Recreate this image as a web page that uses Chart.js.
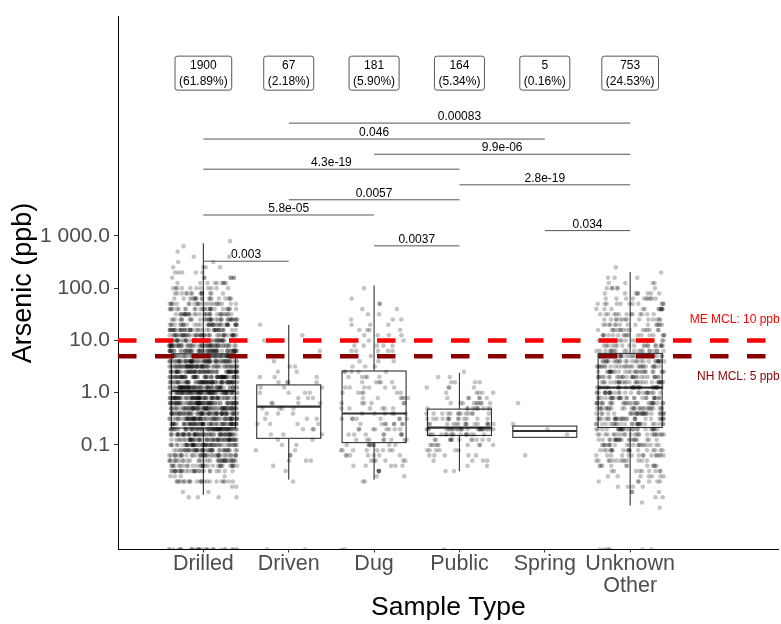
<!DOCTYPE html>
<html>
<head>
<meta charset="utf-8">
<script src="https://cdn.jsdelivr.net/npm/chart.js@4"></script>
<style>
  html, body { margin: 0; padding: 0; background: #fff; }
  #wrap { width: 781px; height: 624px; }
</style>
</head>
<body>
<div id="wrap"><canvas id="arsenicChart"></canvas></div>
<script>
// categories and sample sizes
const sampleTypes = ['Drilled', 'Driven', 'Dug', 'Public', 'Spring', ['Unknown', 'Other']];
const sampleCounts = [1900, 67, 181, 164, 5, 753];

// box statistics (ppb)
const q1 = [0.211, 0.134, 0.111, 0.152, 0.140, 0.216];
const median = [1.08, 0.543, 0.40, 0.214, 0.185, 1.25];
const q3 = [5.56, 1.41, 2.6, 0.485, 0.230, 5.65];
const whiskerLow = [0.0112, 0.0216, 0.0216, 0.0314, 0.140, 0.00698];
const whiskerHigh = [723, 19.8, 112, 2.41, 0.230, 203];

// y axis ticks
const yTickValues = [0.1, 1, 10, 100, 1000];
const yTickLabels = ['0.1', '1.0', '10.0', '100.0', '1 000.0'];

// MCL reference lines
const mclValues = [10, 5];
const mclLabels = ['ME MCL: 10 ppb', 'NH MCL: 5 ppb'];

// pairwise comparisons (group numbers, p value, bracket height in ppb)
const comparePairs = [[1, 2], [3, 4], [5, 6], [1, 3], [2, 4], [4, 6], [1, 4], [3, 6], [1, 5], [2, 6]];
const comparePValues = ['0.003', '0.0037', '0.034', '5.8e-05', '0.0057', '2.8e-19', '4.3e-19', '9.9e-06', '0.046', '0.00083'];
const compareHeights = [328, 645, 1262, 2514, 4910, 9490, 18900, 36500, 71300, 144000];
const countLabelHeight = 1.3e6;

// jittered samples: log10(ppb) levels and number of samples at each level
// (first level = values at or below the axis floor)
const levelLog10 = [-3.0,
  -2.2, -2.1, -2.0, -1.9, -1.8, -1.7, -1.6, -1.5, -1.4, -1.3, -1.2, -1.1, -1.0,
  -0.9, -0.8, -0.7, -0.6, -0.5, -0.4, -0.3, -0.2, -0.1, 0.0,
  0.1, 0.2, 0.3, 0.4, 0.5, 0.6, 0.7, 0.8, 0.9, 1.0,
  1.1, 1.2, 1.3, 1.4, 1.5, 1.6, 1.7, 1.8, 1.9, 2.0,
  2.1, 2.2, 2.3, 2.4, 2.5, 2.6, 2.7, 2.8, 2.9];
const drilledCounts = [30,
  0, 0, 4, 2, 2, 22, 4, 28, 30, 35, 38, 45, 55,
  58, 62, 64, 64, 65, 66, 68, 70, 70, 70,
  70, 70, 69, 68, 66, 65, 64, 58, 55, 50,
  46, 42, 38, 34, 30, 26, 22, 18, 14, 11,
  9, 7, 5, 4, 2, 2, 1, 1, 1];
const drivenCounts = [2,
  0, 0, 0, 0, 0, 1, 0, 1, 1, 3, 2, 2, 2,
  2, 3, 3, 4, 3, 3, 4, 4, 3, 4,
  3, 4, 3, 2, 2, 1, 1, 1, 0, 1,
  1, 0, 1, 0, 0, 0, 0, 0, 0, 0,
  0, 0, 0, 0, 0, 0, 0, 0, 0];
const dugCounts = [2,
  0, 0, 0, 0, 0, 2, 2, 4, 5, 6, 7, 8, 9,
  8, 8, 8, 8, 8, 6, 6, 6, 6, 6,
  6, 5, 5, 5, 3, 3, 3, 5, 5, 4,
  4, 4, 3, 3, 2, 2, 2, 1, 0, 1,
  0, 0, 0, 0, 0, 0, 0, 0, 0];
const publicCounts = [1,
  0, 0, 0, 0, 0, 0, 0, 2, 2, 4, 5, 6, 9,
  12, 16, 25, 15, 13, 13, 10, 9, 6, 5,
  4, 4, 2, 1, 0, 0, 0, 0, 0, 0,
  0, 0, 0, 0, 0, 0, 0, 0, 0, 0,
  0, 0, 0, 0, 0, 0, 0, 0, 0];
const springCounts = [0,
  0, 0, 0, 0, 0, 0, 0, 0, 0, 0, 1, 0, 0,
  0, 1, 1, 1, 0, 0, 0, 1, 0, 0,
  0, 0, 0, 0, 0, 0, 0, 0, 0, 0,
  0, 0, 0, 0, 0, 0, 0, 0, 0, 0,
  0, 0, 0, 0, 0, 0, 0, 0, 0];
const unknownCounts = [7,
  1, 1, 2, 3, 4, 6, 7, 9, 11, 13, 15, 18, 20,
  22, 24, 26, 26, 27, 27, 27, 27, 27, 27,
  27, 27, 27, 27, 27, 27, 26, 20, 19, 18,
  17, 16, 15, 14, 13, 12, 11, 10, 8, 6,
  4, 3, 1, 1, 0, 0, 0, 0, 0];
const groupCounts = [drilledCounts, drivenCounts, dugCounts, publicCounts, springCounts, unknownCounts];

const FONT = "'Liberation Sans', Arial, Helvetica, sans-serif";
Chart.defaults.font.family = FONT;

const xMax = 7.74;
const yMin = 0.001;
const yMax = 1.57e7;
const jitterWidth = 0.4;
const boxHalfWidth = 0.375;

// horizontal jitter only (position, not data): deterministic hash in [0,1)
function jitter(k, g) {
  const s = Math.sin(k * 12.9898 + g * 78.233) * 43758.5453;
  return s - Math.floor(s);
}

const pointSets = groupCounts.map((counts, g) => {
  const pts = [];
  let k = 0;
  counts.forEach((c, j) => {
    for (let n = 0; n < c; n++) {
      pts.push({ x: g + 1 + (jitter(k, g) - 0.5) * 2 * jitterWidth, y: Math.pow(10, levelLog10[j]) });
      k++;
    }
  });
  return {
    data: pts,
    backgroundColor: 'rgba(0,0,0,0.23)',
    borderWidth: 0,
    pointRadius: 2.3,
    pointHoverRadius: 2.3,
    clip: 0,
    order: 2
  };
});

const mclColors = ['#ff0000', '#8b0000'];
const mclSets = mclValues.map((v, i) => ({
  data: [{ x: 0, y: v }, { x: xMax, y: v }],
  showLine: true,
  borderColor: mclColors[i],
  borderWidth: 4.5,
  borderDash: [18.5, 18.5],
  pointRadius: 0,
  order: 0
}));

const bracketSets = comparePairs.map((p, i) => ({
  data: [{ x: p[0], y: compareHeights[i] }, { x: p[1], y: compareHeights[i] }],
  showLine: true,
  borderColor: '#555555',
  borderWidth: 1,
  pointRadius: 0,
  order: 1
}));

const totalSamples = sampleCounts.reduce((a, b) => a + b, 0);

const annotatePlugin = {
  id: 'annotate',
  beforeDatasetsDraw(chart) {
    const { ctx, scales: { x, y } } = chart;
    ctx.save();
    ctx.strokeStyle = '#333333';
    sampleTypes.forEach((_, i) => {
      const cx = x.getPixelForValue(i + 1);
      const left = x.getPixelForValue(i + 1 - boxHalfWidth);
      const right = x.getPixelForValue(i + 1 + boxHalfWidth);
      const top = y.getPixelForValue(q3[i]);
      const bottom = y.getPixelForValue(q1[i]);
      ctx.lineWidth = 1.1;
      ctx.beginPath();
      ctx.moveTo(cx, y.getPixelForValue(whiskerHigh[i]));
      ctx.lineTo(cx, top);
      ctx.moveTo(cx, bottom);
      ctx.lineTo(cx, y.getPixelForValue(whiskerLow[i]));
      ctx.stroke();
      ctx.fillStyle = '#ffffff';
      ctx.fillRect(left, top, right - left, bottom - top);
      ctx.strokeRect(left, top, right - left, bottom - top);
      const m = y.getPixelForValue(median[i]);
      ctx.lineWidth = 2.2;
      ctx.beginPath();
      ctx.moveTo(left, m);
      ctx.lineTo(right, m);
      ctx.stroke();
    });
    ctx.restore();
  },
  afterDatasetsDraw(chart) {
    const { ctx, chartArea, scales: { x, y } } = chart;
    ctx.save();
    // p values above the brackets
    ctx.font = '12px ' + FONT;
    ctx.fillStyle = '#000000';
    ctx.textAlign = 'center';
    ctx.textBaseline = 'alphabetic';
    comparePairs.forEach((p, i) => {
      const cx = x.getPixelForValue((p[0] + p[1]) / 2);
      ctx.fillText(comparePValues[i], cx, y.getPixelForValue(compareHeights[i]) - 3);
    });
    // sample counts
    const cy = y.getPixelForValue(countLabelHeight);
    sampleCounts.forEach((n, i) => {
      const l1 = String(n);
      const l2 = '(' + (n / totalSamples * 100).toFixed(2) + '%)';
      const w = Math.max(ctx.measureText(l1).width, ctx.measureText(l2).width) + 8;
      const h = 34;
      const cx = x.getPixelForValue(i + 1);
      ctx.beginPath();
      ctx.roundRect(cx - w / 2, cy - h / 2, w, h, 2.5);
      ctx.fillStyle = '#ffffff';
      ctx.fill();
      ctx.lineWidth = 0.9;
      ctx.strokeStyle = '#444444';
      ctx.stroke();
      ctx.fillStyle = '#000000';
      ctx.fillText(l1, cx, cy - 4.2);
      ctx.fillText(l2, cx, cy + 11.8);
    });
    // MCL labels
    ctx.textAlign = 'right';
    ctx.textBaseline = 'middle';
    ctx.font = '12px ' + FONT;
    ctx.fillStyle = mclColors[0];
    ctx.fillText(mclLabels[0], chartArea.right + 1, y.getPixelForValue(mclValues[0]) - 21);
    ctx.fillStyle = mclColors[1];
    ctx.fillText(mclLabels[1], chartArea.right + 1, y.getPixelForValue(mclValues[1]) + 21);
    ctx.restore();
  }
};

new Chart(document.getElementById('arsenicChart'), {
  type: 'scatter',
  data: { datasets: [...mclSets, ...bracketSets, ...pointSets] },
  options: {
    responsive: true,
    maintainAspectRatio: false,
    animation: false,
    events: [],
    layout: { padding: { top: 14, right: 1, left: 0, bottom: 0 } },
    plugins: { legend: { display: false }, tooltip: { enabled: false } },
    scales: {
      x: {
        type: 'linear',
        min: 0,
        max: xMax,
        bounds: 'data',
        afterFit: s => { s.height = 74.5; },
        afterBuildTicks: s => { s.ticks = sampleTypes.map((_, i) => ({ value: i + 1 })); },
        ticks: {
          autoSkip: false,
          maxRotation: 0,
          padding: 0,
          color: '#4d4d4d',
          font: { size: 21.5, lineHeight: 1.05 },
          callback: v => sampleTypes[v - 1]
        },
        grid: { drawOnChartArea: false, drawTicks: true, tickLength: 3, color: '#333333' },
        border: { display: true, color: '#000000', width: 1 },
        title: { display: true, text: 'Sample Type', color: '#000000', font: { size: 26.5 }, padding: { top: 0, bottom: 0 } }
      },
      y: {
        type: 'logarithmic',
        min: yMin,
        max: yMax,
        bounds: 'data',
        afterFit: s => { s.width = 118; },
        afterBuildTicks: s => { s.ticks = yTickValues.map(v => ({ value: v })); },
        ticks: {
          autoSkip: false,
          padding: 4,
          color: '#4d4d4d',
          font: { size: 21 },
          callback: v => yTickLabels[yTickValues.indexOf(v)]
        },
        grid: { drawOnChartArea: false, drawTicks: true, tickLength: 4, color: '#333333' },
        border: { display: true, color: '#000000', width: 1 },
        title: { display: true, text: 'Arsenic (ppb)', color: '#000000', font: { size: 27 }, padding: { top: 7, bottom: 0 } }
      }
    }
  },
  plugins: [annotatePlugin]
});
</script>
</body>
</html>
